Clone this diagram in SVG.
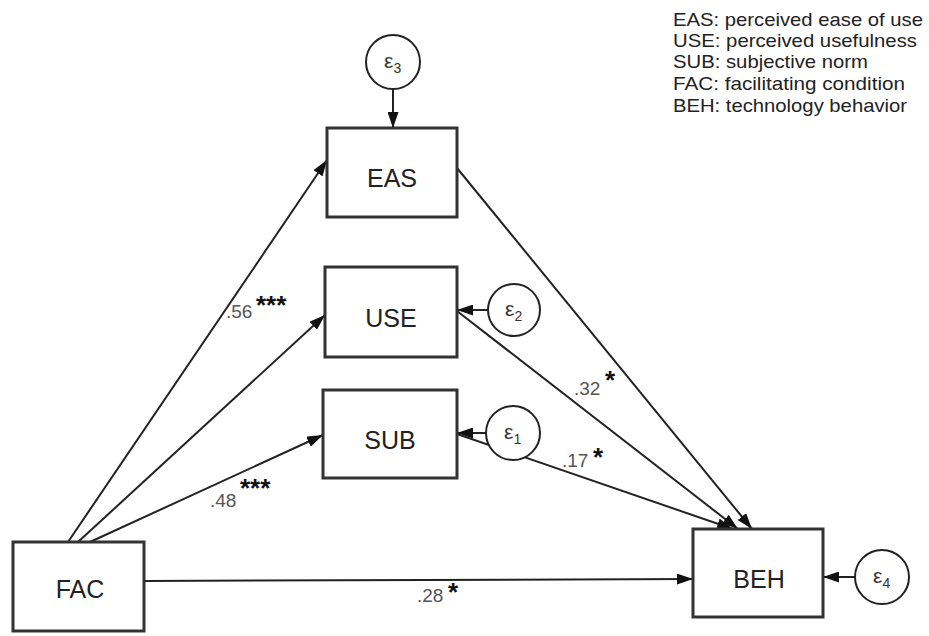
<svg xmlns="http://www.w3.org/2000/svg" width="929" height="636" viewBox="0 0 929 636">
<style>
.box{fill:#fff;stroke:#333;stroke-width:3}
.err{fill:#fff;stroke:#222;stroke-width:2}
.lbl{font-family:"Liberation Sans",Arial,sans-serif;font-size:25px;fill:#222;text-anchor:middle}
.eps{font-family:"Liberation Sans",Arial,sans-serif;font-size:21px;fill:#333}
.sub{font-size:14px}
.leg{font-family:"Liberation Sans",Arial,sans-serif;font-size:19px;fill:#222}
.coef{font-family:"Liberation Sans",Arial,sans-serif;font-size:19px;fill:#555}
.star{font-family:"Liberation Sans",Arial,sans-serif;font-size:26px;font-weight:bold;fill:#111}
.edge{stroke:#222;stroke-width:2;fill:none;marker-end:url(#ah)}
</style>
<defs>
<marker id="ah" viewBox="0 0 16 11" refX="16" refY="5.5" markerWidth="16" markerHeight="11" markerUnits="userSpaceOnUse" orient="auto">
<path d="M0,0 L16,5.5 L0,11 Z" fill="#111"/>
</marker>
</defs>
<rect width="929" height="636" fill="#fff"/>
<g id="legend">
<text class="leg" x="673" y="26" textLength="250" lengthAdjust="spacingAndGlyphs">EAS: perceived ease of use</text>
<text class="leg" x="673" y="47" textLength="244" lengthAdjust="spacingAndGlyphs">USE: perceived usefulness</text>
<text class="leg" x="673" y="68" textLength="195" lengthAdjust="spacingAndGlyphs">SUB: subjective norm</text>
<text class="leg" x="673" y="90" textLength="232" lengthAdjust="spacingAndGlyphs">FAC: facilitating condition</text>
<text class="leg" x="673" y="112" textLength="234" lengthAdjust="spacingAndGlyphs">BEH: technology behavior</text>
</g>
<g id="connectors">
<line class="edge" x1="393" y1="89" x2="393" y2="128"/>
<line class="edge" x1="488" y1="310" x2="457" y2="310"/>
<line class="edge" x1="486" y1="433" x2="457" y2="433"/>
<line class="edge" x1="855" y1="577" x2="823" y2="577"/>
<line class="edge" x1="68" y1="542" x2="327" y2="160"/>
<line class="edge" x1="78" y1="542" x2="325" y2="315"/>
<line class="edge" x1="90" y1="542" x2="323" y2="435"/>
<line class="edge" x1="144" y1="581" x2="693" y2="579"/>
<line class="edge" x1="457" y1="168" x2="752" y2="529"/>
<line class="edge" x1="457" y1="311" x2="738" y2="529"/>
<line class="edge" x1="457" y1="434" x2="733" y2="529"/>
</g>
<g id="labels">
<text class="coef" x="226" y="318">.56</text><text class="star" x="256" y="314">***</text>
<text class="coef" x="210" y="507">.48</text><text class="star" x="240" y="497">***</text>
<text class="coef" x="417" y="602">.28</text><text class="star" x="448" y="601">*</text>
<text class="coef" x="574" y="395">.32</text><text class="star" x="605" y="389">*</text>
<text class="coef" x="562" y="467">.17</text><text class="star" x="593" y="466">*</text>
</g>
<g id="EAS"><rect class="box" x="327" y="128" width="130" height="89"/><text class="lbl" x="392" y="187">EAS</text></g>
<g id="USE"><rect class="box" x="325" y="267" width="132" height="90"/><text class="lbl" x="391" y="327">USE</text></g>
<g id="SUB"><rect class="box" x="323" y="390" width="134" height="88"/><text class="lbl" x="390" y="449">SUB</text></g>
<g id="FAC"><rect class="box" x="13" y="542" width="131" height="89"/><text class="lbl" x="80" y="598">FAC</text></g>
<g id="BEH"><rect class="box" x="693" y="529" width="130" height="88"/><text class="lbl" x="759" y="588">BEH</text></g>
<g id="e3"><circle class="err" cx="393" cy="62" r="27"/><text class="eps" x="384" y="68">ε<tspan class="sub" dy="5">3</tspan></text></g>
<g id="e2"><circle class="err" cx="514" cy="310" r="26"/><text class="eps" x="505" y="316">ε<tspan class="sub" dy="5">2</tspan></text></g>
<g id="e1"><circle class="err" cx="513" cy="433" r="27"/><text class="eps" x="504" y="439">ε<tspan class="sub" dy="5">1</tspan></text></g>
<g id="e4"><circle class="err" cx="882" cy="577" r="27"/><text class="eps" x="873" y="583">ε<tspan class="sub" dy="5">4</tspan></text></g>
</svg>
